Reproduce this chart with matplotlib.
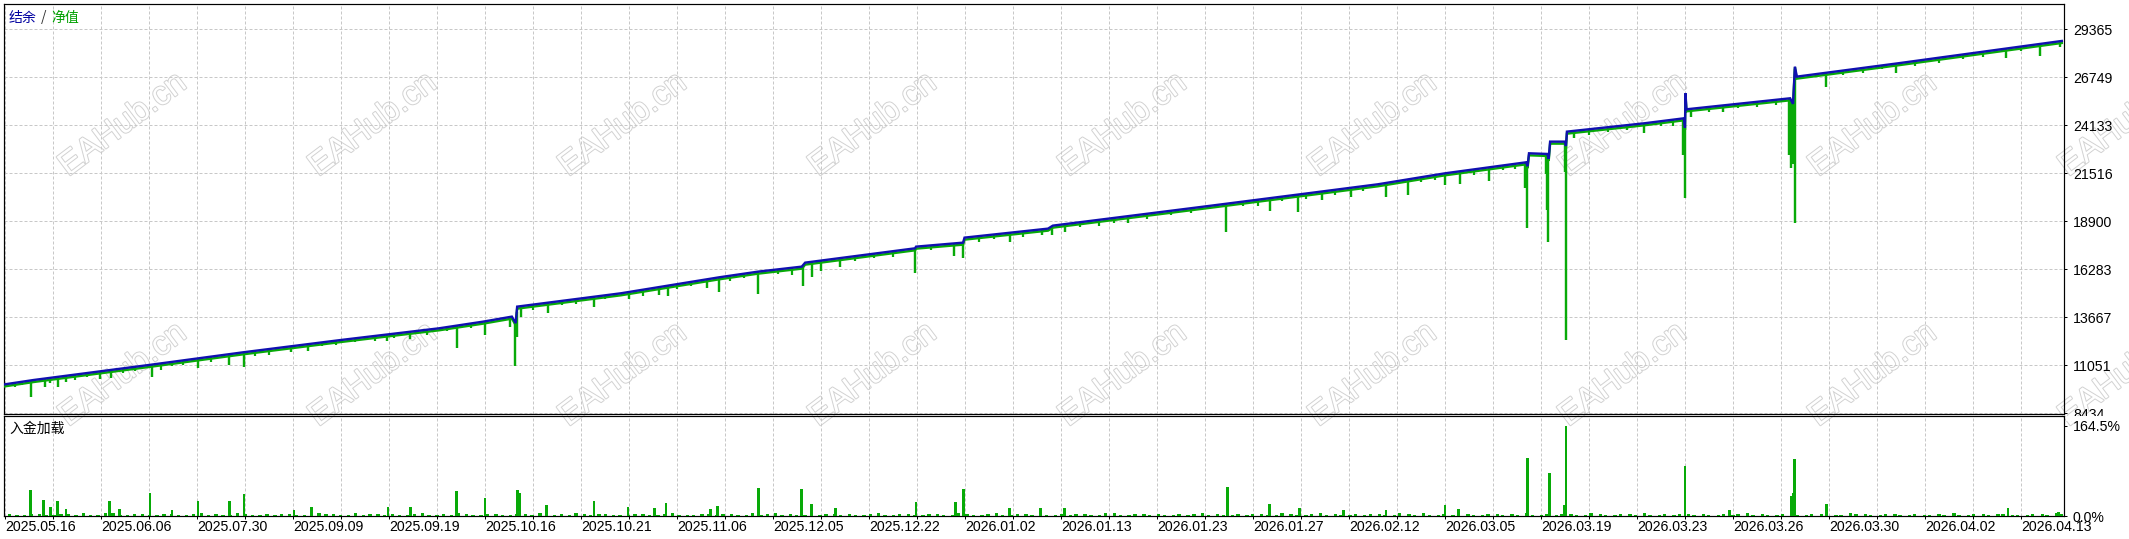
import numpy as np
import matplotlib
matplotlib.use("Agg")
import matplotlib.pyplot as plt
import matplotlib.patheffects as pe
import matplotlib.transforms as mtransforms
from matplotlib.patches import Rectangle

plt.rcParams['font.family'] = ['Liberation Sans', 'Noto Sans CJK SC', 'DejaVu Sans']

# ---------------- data ----------------
date_labels = ["2025.05.16", "2025.06.06", "2025.07.30", "2025.09.09", "2025.09.19",
               "2025.10.16", "2025.10.21", "2025.11.06", "2025.12.05", "2025.12.22",
               "2026.01.02", "2026.01.13", "2026.01.23", "2026.01.27", "2026.02.12",
               "2026.03.05", "2026.03.19", "2026.03.23", "2026.03.26", "2026.03.30",
               "2026.04.02", "2026.04.13"]

y_ticks = [8434, 11051, 13667, 16283, 18900, 21516, 24133, 26749, 29365]
load_ticks = [0.0, 164.5]
load_tick_labels = ["0.0%", "164.5%"]

# balance curve (x in grid-slot units)
bal_x = [0.0, 0.60, 3.00, 4.96, 7.00, 9.04, 9.96, 10.56, 10.64, 10.67,
         12.83, 14.88, 15.69, 16.60, 16.67, 18.96, 18.98, 19.96, 19.99, 21.73,
         21.83, 25.08, 26.98, 28.60, 30.00, 31.69, 31.72, 31.75, 32.13, 32.16,
         32.19, 32.50, 32.52, 32.54, 34.15, 34.98, 35.00, 35.01, 35.03, 37.19,
         37.25, 37.29, 37.33, 39.44, 42.85]
bal_y = [10014, 10250, 11068, 11758, 12430, 13066, 13430, 13703, 13350, 14248,
         14975, 15847, 16156, 16428, 16646, 17427, 17518, 17736, 18009, 18500,
         18663, 19735, 20371, 20916, 21515, 22115, 21900, 22606, 22570, 22300,
         23242, 23242, 23000, 23787, 24241, 24514, 24000, 25876, 25004, 25604,
         25300, 27330, 26785, 27512, 28729]

# equity drawdown spikes: position and minimum equity
dip_x = [0.54, 0.83, 0.94, 1.10, 1.27, 1.98, 2.21, 3.06, 3.48, 4.02,
         4.67, 4.98, 5.96, 6.31, 7.96, 8.44, 9.42, 10.00, 10.52, 10.63,
         10.66, 10.75, 11.31, 12.27, 13.00, 13.63, 13.81, 14.63, 14.88, 15.69,
         16.63, 16.81, 17.00, 17.40, 18.96, 19.77, 19.96, 20.94, 21.60, 21.81,
         22.08, 23.40, 25.44, 26.35, 26.94, 27.44, 28.04, 28.77, 29.23, 30.00,
         30.31, 30.92, 31.67, 31.71, 32.10, 32.13, 32.15, 32.50, 32.52, 32.69,
         34.15, 34.96, 35.00, 35.13, 35.79, 37.17, 37.21, 37.25, 37.29, 37.94,
         39.40, 41.69, 42.40, 42.81]
dip_y = [9305, 9887, 10069, 9850, 10160, 10305, 10341, 10396, 11013, 10886,
         11068, 10977, 11795, 11850, 12394, 12467, 11977, 12685, 13157, 11032,
         12612, 13666, 13920, 14211, 14647, 14883, 14847, 15247, 15064, 14920,
         15392, 15883, 16210, 16428, 16101, 17028, 16882, 17791, 18154, 18154,
         18299, 18826, 18336, 19480, 19408, 20062, 20244, 20244, 20335, 20880,
         20934, 21098, 20700, 18554, 21500, 19500, 17791, 21600, 12430, 23423,
         23696, 22500, 20153, 24568, 24877, 22500, 21825, 22000, 18790, 26240,
         26967, 27784, 27911, 28420]

# small equity dips: position and depth below balance
small_dip_x = [0.20, 0.35, 1.45, 1.70, 2.45, 2.70, 3.25, 3.70, 4.30, 5.20,
               5.50, 6.60, 6.90, 7.30, 7.70, 8.10, 8.80, 9.20, 9.70, 11.00,
               11.60, 11.90, 12.50, 13.30, 14.00, 14.30, 15.10, 15.40, 16.10, 16.40,
               17.70, 18.10, 18.50, 19.30, 20.30, 20.60, 21.20, 22.40, 22.80, 23.10,
               23.80, 24.30, 24.70, 25.80, 26.10, 26.60, 27.10, 27.70, 28.30, 29.50,
               29.80, 30.60, 31.20, 31.45, 33.00, 33.40, 33.80, 34.50, 34.75, 35.50,
               36.10, 36.50, 36.90, 38.30, 38.70, 39.10, 39.80, 40.30, 40.80, 41.20,
               42.00]
small_dip_d = [250, 180, 300, 220, 260, 200, 350, 240, 280, 260,
               320, 220, 260, 200, 300, 240, 280, 220, 260, 300,
               240, 280, 200, 340, 260, 220, 300, 240, 260, 380,
               280, 240, 320, 260, 300, 220, 280, 240, 340, 260,
               300, 220, 280, 240, 320, 260, 280, 300, 240, 280,
               260, 320, 240, 280, 300, 260, 240, 280, 320, 260,
               220, 300, 260, 240, 280, 220, 260, 300, 240, 280,
               260]

# deposit load (%) main bars
load_x = [0.54, 0.81, 0.94, 1.10, 1.27, 2.17, 2.38, 3.02, 3.48, 4.02,
          4.67, 4.98, 6.02, 6.38, 7.98, 8.44, 9.40, 10.00, 10.67, 10.73,
          11.29, 12.27, 12.98, 13.54, 13.77, 14.69, 14.85, 15.69, 16.60, 16.81,
          17.31, 18.98, 19.81, 19.96, 20.92, 21.58, 22.08, 25.46, 26.35, 26.96,
          27.88, 28.77, 30.00, 30.29, 31.71, 32.17, 32.48, 32.52, 35.00, 35.92,
          37.21, 37.25, 37.29, 37.94, 41.73, 42.79]
load_v = [47, 29, 17, 28, 12, 28, 12, 42, 11, 28,
          28, 40, 11, 17, 16, 16, 46, 33, 47, 41,
          20, 28, 16, 14, 23, 12, 18, 51, 49, 22,
          15, 25, 26, 49, 15, 15, 14, 53, 22, 15,
          11, 11, 20, 13, 106, 79, 20, 164.5, 91, 11,
          36, 42, 104, 22, 15, 7]
# small background load bars (two interleaved rows)
minor_v = [3, 2, 4, 1, 3, 5, 2, 6, 2, 3, 1, 4, 2, 5, 3, 2, 4, 2, 1, 3,
           2, 5, 3, 1, 2, 4, 3, 2, 6, 2, 1, 3, 2, 4, 2, 3, 5, 1, 2, 3,
           4, 2, 1, 3, 2, 5, 2, 3, 1, 4, 2, 2, 6, 3, 1, 2, 4, 3, 2, 5,
           1, 3, 2, 4, 2, 3, 1, 5, 2, 3, 4, 2, 1, 3, 2, 6, 2, 3, 4, 1,
           2, 5, 3, 2, 1, 4, 2, 3, 2, 5, 3, 1, 2, 4, 2, 3, 6, 2, 1, 3,
           2, 4, 3, 5, 2, 1, 3, 2, 4, 2, 3, 5, 1, 2, 3, 4, 2, 1, 5, 3,
           2, 4, 1, 3, 2, 5, 3, 2, 4, 1, 2, 3, 6, 2, 3, 4, 2, 1, 3, 5]
minor_v2 = [2, 4, 1, 3, 2, 2, 5, 1, 3, 2, 4, 2, 3, 1, 2, 5, 2, 3, 4, 2,
            1, 3, 2, 5, 3, 2, 1, 4, 2, 3, 5, 2, 3, 1, 4, 2, 1, 3, 5, 2,
            3, 1, 4, 2, 3, 2, 1, 4, 3, 2, 5, 3, 1, 2, 4, 3, 2, 1, 3, 2,
            4, 2, 3, 1, 5, 2, 4, 2, 3, 1, 2, 4, 3, 2, 5, 1, 3, 2, 2, 4,
            3, 1, 2, 4, 3, 2, 5, 1, 3, 2, 2, 4, 3, 1, 5, 2, 2, 3, 4, 2,
            3, 1, 2, 2, 4, 3, 1, 5, 2, 3, 2, 1, 4, 3, 2, 2, 3, 4, 1, 2,
            3, 2, 4, 2, 1, 3, 2, 4, 1, 3, 2, 1, 2, 4, 2, 3, 1, 4, 2, 3]

# ---------------- styling ----------------
W, H = 2129, 539
BLUE = '#1010B0'
GREEN = '#08AA08'
GRID = '#c8c8c8'
PX = 0.72  # one pixel in points at dpi 100

fig = plt.figure(figsize=(W / 100, H / 100), dpi=100)
fig.patch.set_facecolor('white')

L, R = 4, 2064
ax1 = fig.add_axes([L / W, (H - 414) / H, (R - L) / W, 410 / H], zorder=0)
ax2 = fig.add_axes([L / W, (H - 516) / H, (R - L) / W, 100 / H], zorder=1)

xmin, xmax = (L - 5) / 48, (R - 5) / 48
n_grid = 43

for ax in (ax1, ax2):
    ax.patch.set_alpha(0)
    ax.set_xlim(xmin, xmax)
    ax.set_xticks(range(n_grid))
    for s in ax.spines.values():
        s.set_linewidth(PX * 1.2)
        s.set_color('black')
    ax.grid(True, axis='x', color=GRID, ls=(0, (3, 2)), lw=PX)

# top panel
ax1.set_ylim(8396, 30744)
ax1.yaxis.tick_right()
ax1.set_yticks(y_ticks)
ax1.set_yticklabels([str(v) for v in y_ticks])
ax1.grid(True, axis='y', color=GRID, ls=(0, (3, 2)), lw=PX)
ax1.tick_params(axis='x', length=0, labelbottom=False)
ax1.tick_params(axis='y', length=3 * PX, width=PX, pad=4.3, labelsize=10.2, direction='out')

off = mtransforms.offset_copy(ax1.transData, fig=fig, x=0, y=-2, units='dots')
ax1.plot(bal_x, bal_y, color=GREEN, lw=2.4 * PX, transform=off, zorder=3, solid_joinstyle='miter')
top_of_dip = np.interp(dip_x, bal_x, bal_y)
ax1.vlines(dip_x, dip_y, top_of_dip, color=GREEN, lw=2.4 * PX, zorder=3)
small_top = np.interp(small_dip_x, bal_x, bal_y)
ax1.vlines(small_dip_x, small_top - np.array(small_dip_d), small_top, color=GREEN,
           lw=2.2 * PX, zorder=3)
ax1.plot(bal_x, bal_y, color=BLUE, lw=2.4 * PX, zorder=4, solid_joinstyle='miter')

# bottom panel
ax2.set_ylim(0, 182.2)
ax2.yaxis.tick_right()
ax2.set_yticks(load_ticks)
ax2.set_yticklabels(load_tick_labels)
ax2.tick_params(axis='y', length=3 * PX, width=PX, pad=4.3, labelsize=10.2, direction='out')
xt_labels = []
for i in range(n_grid):
    xt_labels.append(date_labels[i // 2] if i % 2 == 0 else '')
ax2.set_xticklabels(xt_labels)
ax2.tick_params(axis='x', length=3 * PX, width=PX, pad=0.6, labelsize=10.2, direction='out')
for t in ax2.get_xticklabels():
    t.set_horizontalalignment('left')

minor_x = np.linspace(0.1, 42.75, len(minor_v))
minor_x2 = np.linspace(0.25, 42.85, len(minor_v2))
ax2.bar(minor_x, minor_v, width=0.07, color=GREEN, zorder=3)
ax2.bar(minor_x2, minor_v2, width=0.07, color=GREEN, zorder=3)
ax2.bar(load_x, load_v, width=0.06, color=GREEN, zorder=3)

# labels
cjk = ['Noto Sans CJK SC', 'DejaVu Sans']
yl = (H - 17.5) / H
fig.text(9 / W, yl, '结余', color='#0000A0', fontsize=10, family=cjk, va='center', ha='left')
fig.text(41 / W, yl, '/', color='#303030', fontsize=10, family=cjk, va='center', ha='left')
fig.text(51 / W, yl, '净值', color='#00A000', fontsize=10, family=cjk, va='center', ha='left')
fig.text(9 / W, (H - 429) / H, '入金加载', color='black', fontsize=10, family=cjk, va='center', ha='left')

# hide lower half of the bottom price label (covered by lower panel)
fig.patches.append(Rectangle(((R + 1.5) / W, (H - 420.5) / H), (W - R) / W, 4.5 / H,
                             transform=fig.transFigure, facecolor='white', edgecolor='none', zorder=0.5))

# watermark
for cx in [123 + 250 * k for k in range(9)]:
    for cy in [125, 375]:
        fig.text(cx / W, (H - cy) / H, 'EAHub.cn', rotation=37, ha='center', va='center',
                 fontsize=24, family='Liberation Sans', color='white', zorder=-1,
                 path_effects=[pe.Stroke(linewidth=1.4, foreground='#d2d2d2'), pe.Normal()])

fig.savefig('out.png', dpi=100, facecolor='white')
